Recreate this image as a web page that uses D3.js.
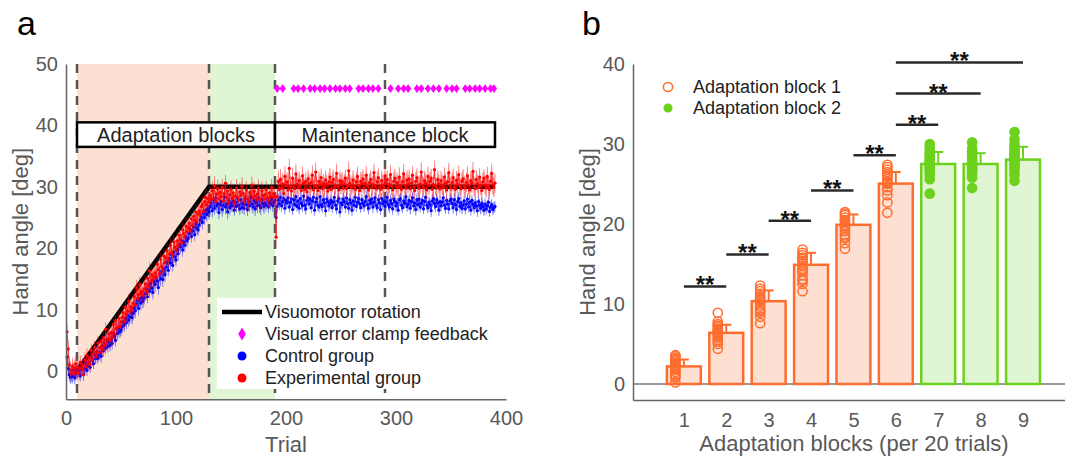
<!DOCTYPE html>
<html>
<head>
<meta charset="utf-8">
<script src="https://cdn.jsdelivr.net/npm/d3@7"></script>
<style>
    body { margin: 0; background: #fff; }
    svg { font-family: "Liberation Sans", Arial, sans-serif; }
</style>
</head>
<body>
<svg id="chart"></svg>
<script>
// ---------- panel a : trial-by-trial hand angle ----------
const controlGroup = [
    2.3, 0.4, -0.6, -1.0, -0.4, -0.9, 0.2, -1.1, -0.3, 0.1,
    -0.3, 0.5, -0.8, 0.2, 1.1, -0.5, 0.4, 1.3, 0.1, 0.9,
    1.4, 0.6, 2.3, 1.8, 1.2, 2.7, 2.0, 3.2, 2.1, 2.6,
    3.0, 2.4, 4.1, 3.3, 4.6, 3.7, 5.1, 4.0, 4.8, 4.2,
    5.1, 4.5, 6.2, 5.6, 5.0, 6.9, 6.1, 7.0, 6.4, 6.7,
    7.2, 8.0, 7.5, 8.6, 7.9, 9.1, 8.3, 8.8, 9.6, 8.7,
    9.4, 10.3, 9.8, 10.9, 11.5, 10.2, 11.8, 11.1, 12.0, 11.4,
    11.9, 12.6, 13.4, 12.1, 13.9, 13.0, 14.3, 13.5, 12.8, 14.6,
    14.1, 15.2, 14.7, 13.6, 15.8, 15.0, 16.3, 14.9, 16.6, 15.7,
    16.9, 17.8, 16.4, 18.3, 17.6, 18.9, 17.2, 19.4, 18.6, 18.1,
    19.8, 19.1, 20.6, 20.2, 21.3, 19.7, 21.0, 20.5, 21.9, 21.2,
    21.6, 22.4, 23.1, 21.9, 22.8, 23.5, 22.2, 24.0, 23.3, 23.0,
    23.8, 24.6, 25.1, 24.2, 25.7, 25.0, 26.2, 25.5, 26.4, 25.9,
    26.8, 27.4, 26.1, 27.9, 26.5, 28.2, 26.9, 27.3, 25.8, 27.1,
    27.6, 26.3, 27.0, 28.4, 26.7, 27.2, 25.9, 27.8, 26.6, 27.4,
    26.9, 27.7, 26.2, 27.5, 26.8, 28.1, 27.0, 26.4, 27.9, 26.6,
    27.3, 26.5, 28.0, 27.1, 26.3, 27.6, 26.9, 28.3, 27.2, 26.7,
    27.8, 26.4, 27.5, 26.9, 28.2, 27.0, 26.6, 27.9, 27.3, 26.8,
    27.4, 27.0, 28.1, 26.7, 27.6, 27.2, 28.0, 26.9, 27.5, 27.8,
    25.0, 26.8, 27.9, 27.2, 28.3, 26.9, 27.6, 28.1, 26.5, 27.8,
    27.4, 28.2, 26.7, 27.5, 28.0, 26.3, 27.9, 27.1, 28.4, 26.8,
    27.7, 26.5, 28.1, 27.3, 26.9, 28.5, 27.0, 26.4, 27.8, 28.2,
    27.2, 28.0, 26.6, 27.7, 28.3, 26.2, 27.5, 28.1, 27.0, 26.7,
    28.4, 27.1, 26.8, 27.9, 27.4, 26.1, 28.0, 27.6, 26.9, 27.3,
    27.8, 26.6, 27.5, 28.3, 27.0, 26.4, 27.7, 28.1, 25.9, 27.4,
    27.1, 28.0, 27.6, 26.7, 28.2, 27.3, 26.5, 27.9, 27.4, 26.2,
    27.7, 27.0, 28.3, 26.8, 27.5, 28.1, 27.2, 26.6, 27.9, 27.3,
    26.9, 27.6, 28.4, 27.1, 26.5, 27.8, 27.3, 28.0, 26.7, 27.5,
    28.2, 27.0, 26.6, 27.9, 27.4, 26.3, 28.1, 27.2, 27.7, 26.8,
    27.5, 28.3, 27.1, 26.7, 27.8, 27.3, 26.4, 28.0, 27.6, 26.9,
    27.4, 26.2, 27.9, 28.1, 27.0, 26.6, 27.7, 27.3, 28.4, 26.8,
    27.2, 27.8, 26.5, 27.6, 28.2, 26.9, 27.4, 26.3, 27.9, 27.1,
    28.0, 26.7, 27.3, 27.8, 26.4, 27.6, 28.3, 27.0, 26.6, 27.5,
    27.1, 26.1, 27.7, 28.1, 27.3, 26.8, 27.9, 27.4, 26.2, 27.6,
    26.9, 27.5, 28.2, 27.0, 26.5, 27.8, 27.2, 26.4, 27.7, 28.0,
    27.3, 26.6, 27.9, 27.1, 26.3, 27.6, 28.1, 26.8, 27.4, 26.5,
    27.0, 27.7, 26.4, 27.2, 28.0, 26.7, 27.5, 26.2, 27.8, 27.1,
    26.6, 27.4, 26.9, 26.1, 27.6, 27.0, 26.5, 27.3, 26.8, 26.2,
    27.2, 26.4, 26.9, 27.5, 26.0, 26.7, 27.1, 26.3, 26.6, 26.8
];

const experimentalGroup = [
    6.4, 3.6, 1.0, 0.2, -0.5, 0.8, -0.3, 0.5, 1.2, -0.2,
    0.6, -0.4, 1.4, 0.3, 0.9, -0.6, 1.8, 0.7, 2.6, 1.2,
    2.2, 1.1, 3.4, 1.9, 2.8, 3.9, 2.3, 3.1, 4.6, 3.0,
    3.8, 4.9, 3.5, 5.4, 4.2, 6.8, 4.6, 5.2, 6.1, 5.0,
    6.3, 5.5, 7.6, 6.1, 8.2, 6.9, 7.1, 8.6, 7.3, 8.0,
    8.7, 9.5, 8.1, 10.4, 9.2, 9.8, 11.3, 9.6, 10.5, 10.1,
    11.0, 12.2, 10.7, 13.6, 11.8, 12.4, 14.1, 12.6, 13.0, 12.3,
    13.4, 14.2, 12.9, 15.1, 13.8, 16.3, 14.6, 15.7, 14.9, 15.4,
    16.0, 15.3, 17.4, 16.5, 15.9, 18.2, 17.0, 16.4, 18.7, 17.6,
    18.4, 19.6, 18.0, 19.1, 20.5, 19.3, 18.8, 21.0, 20.2, 19.7,
    21.2, 20.4, 22.1, 21.5, 20.9, 23.0, 22.4, 21.8, 23.6, 22.7,
    23.4, 24.1, 22.9, 24.8, 23.7, 25.2, 24.5, 25.9, 24.3, 25.6,
    26.1, 25.4, 26.8, 27.2, 26.0, 27.6, 28.3, 27.0, 28.1, 27.5,
    28.6, 27.9, 29.4, 28.1, 30.2, 27.6, 28.8, 29.7, 28.0, 29.1,
    28.4, 29.9, 27.7, 28.9, 30.6, 28.2, 29.3, 27.5, 28.7, 29.6,
    28.1, 29.0, 27.3, 28.5, 29.8, 28.3, 27.8, 29.2, 28.6, 30.1,
    28.9, 27.6, 28.4, 29.5, 28.0, 27.4, 29.1, 28.7, 30.3, 28.2,
    29.3, 28.5, 27.9, 28.8, 29.7, 28.1, 27.7, 29.4, 28.6, 28.0,
    28.7, 29.6, 28.2, 27.8, 29.0, 28.4, 29.9, 28.3, 28.9, 28.5,
    21.8, 28.4, 30.9, 29.6, 31.2, 29.8, 30.5, 28.9, 31.7, 30.2,
    30.8, 29.5, 33.0, 30.1, 29.3, 31.4, 30.0, 29.7, 32.1, 30.4,
    29.9, 31.0, 30.3, 29.4, 31.8, 30.6, 29.6, 30.9, 29.2, 31.3,
    30.5, 29.8, 30.7, 31.9, 29.5, 30.2, 32.4, 30.0, 29.4, 30.9,
    30.3, 31.5, 29.7, 30.6, 29.9, 31.1, 30.4, 29.3, 30.8, 31.6,
    29.6, 30.7, 31.2, 29.9, 30.3, 32.2, 30.0, 29.5, 31.0, 30.4,
    30.9, 29.8, 30.5, 31.4, 29.7, 30.1, 32.6, 30.6, 29.9, 30.3,
    31.1, 30.0, 29.6, 30.8, 31.7, 30.2, 29.4, 30.9, 30.5, 31.3,
    29.8, 30.6, 31.9, 30.1, 29.5, 30.7, 31.2, 29.9, 30.4, 32.3,
    30.2, 29.7, 30.8, 31.5, 30.0, 29.6, 31.0, 30.3, 29.9, 31.8,
    30.5, 31.2, 29.8, 30.4, 32.0, 30.1, 29.5, 30.9, 31.4, 30.0,
    30.7, 29.9, 31.6, 30.2, 29.6, 30.8, 32.1, 30.3, 29.8, 31.1,
    30.4, 31.3, 29.7, 30.6, 31.9, 30.0, 29.4, 30.9, 31.5, 30.1,
    29.8, 30.5, 32.4, 30.3, 29.9, 31.0, 30.6, 29.5, 31.7, 30.2,
    30.9, 31.4, 29.6, 30.4, 32.8, 30.1, 29.8, 31.2, 30.5, 29.7,
    31.0, 30.3, 29.9, 31.6, 30.6, 29.5, 30.8, 32.3, 30.2, 29.8,
    30.7, 31.5, 30.0, 29.6, 31.1, 30.4, 32.0, 30.1, 29.7, 30.9,
    31.3, 30.2, 29.8, 30.7, 31.8, 30.3, 29.5, 31.0, 30.6, 32.5,
    30.0, 29.7, 31.2, 30.5, 29.9, 31.6, 30.2, 29.4, 30.8, 31.4,
    30.3, 29.8, 31.7, 30.1, 29.6, 30.9, 32.2, 30.4, 29.9, 30.6
];

// SEM, one value for each run of 10 trials
const controlSem = [1.1, 0.9, 0.9, 1.0, 1.0, 1.1, 1.2, 1.1, 1.2, 1.0, 1.1, 1.0, 1.2,
    1.1, 1.2, 1.0, 1.1, 1.2, 1.0, 1.0, 0.9, 1.0, 0.9, 1.0, 0.9, 1.0, 0.9, 1.0, 0.9,
    1.0, 0.9, 1.0, 0.9, 1.0, 0.9, 1.0, 0.9, 1.0, 0.9];
const experimentalSem = [1.4, 1.1, 1.1, 1.2, 1.2, 1.3, 1.3, 1.4, 1.3, 1.2, 1.3, 1.2, 1.3,
    1.5, 1.4, 1.5, 1.4, 1.5, 1.4, 1.7, 1.6, 1.5, 1.6, 1.5, 1.6, 1.5, 1.6, 1.5, 1.6,
    1.5, 1.6, 1.5, 1.6, 1.5, 1.6, 1.5, 1.6, 1.5, 1.6];

const rotationSchedule = [[10, 0], [130, 30], [390, 30]];
const clampTrials = [192, 197, 207, 211, 216, 222, 226, 231, 235, 240, 245, 249, 254, 258,
    266, 270, 275, 279, 284, 295, 302, 307, 311, 319, 323, 329, 334, 339, 346, 351, 355,
    363, 367, 372, 376, 381, 386, 389];
const clampAngle = 46;
const phaseBounds = [10, 130, 190, 290];
const phaseBoxes = [
    { label: 'Adaptation blocks', from: 10, to: 190 },
    { label: 'Maintenance block', from: 190, to: 390 }
];
const boxRange = [36.5, 40.5];
const trialTicks = [0, 100, 200, 300, 400];
const angleTicksA = [0, 10, 20, 30, 40, 50];
const legendLabelsA = ['Visuomotor rotation', 'Visual error clamp feedback', 'Control group', 'Experimental group'];

// ---------- panel b : block averages ----------
const blocks = [1, 2, 3, 4, 5, 6, 7, 8, 9];
const blockMeans = [2.2, 6.4, 10.35, 14.9, 19.9, 25.05, 27.5, 27.5, 28.05];
const blockSd = [0.86, 1.0, 1.35, 1.5, 1.3, 1.45, 1.5, 1.35, 1.6];
const blockPoints = [
    [0.2, 0.8, 1.2, 1.5, 1.8, 2.0, 2.2, 2.4, 2.6, 2.8, 3.0, 3.1, 3.3, 3.5, 3.6, 1.0],
    [4.4, 5.0, 5.5, 5.8, 6.0, 6.2, 6.4, 6.5, 6.7, 6.9, 7.1, 7.3, 7.5, 7.8, 8.9, 5.3],
    [7.6, 8.4, 8.9, 9.3, 9.7, 10.0, 10.3, 10.5, 10.8, 11.0, 11.3, 11.6, 11.9, 12.3, 9.1, 10.6],
    [11.6, 12.5, 13.1, 13.6, 14.0, 14.4, 14.8, 15.1, 15.4, 15.8, 16.1, 16.4, 16.8, 12.9, 15.6, 14.2],
    [16.9, 17.6, 18.2, 18.7, 19.1, 19.5, 19.9, 20.2, 20.5, 20.8, 21.1, 21.5, 19.7, 20.4, 18.4, 21.3],
    [21.4, 22.7, 23.6, 24.2, 24.6, 25.0, 25.3, 25.6, 25.9, 26.2, 26.5, 26.8, 27.1, 27.4, 25.1, 26.0],
    [23.8, 25.6, 26.2, 26.6, 27.0, 27.3, 27.6, 27.9, 28.2, 28.5, 28.8, 29.1, 29.5, 30.0, 27.8, 26.9],
    [24.5, 25.8, 26.3, 26.7, 27.0, 27.3, 27.6, 27.9, 28.2, 28.5, 28.8, 29.1, 29.4, 30.2, 27.5, 26.8],
    [25.4, 26.1, 26.7, 27.1, 27.5, 27.8, 28.1, 28.4, 28.7, 29.0, 29.3, 29.6, 30.0, 30.6, 31.5, 28.3]
];
// [from block, to block, height of bracket in deg]
const sigPairs = [[1, 2, 12.2], [2, 3, 16.2], [3, 4, 20.4], [4, 5, 24.2], [5, 6, 28.6],
    [6, 7, 32.4], [6, 8, 36.3], [6, 9, 40.2]];
const angleTicksB = [0, 10, 20, 30, 40];
const legendLabelsB = ['Adaptation block 1', 'Adaptation block 2'];

const svg = d3.select('#chart').attr('width', 1065).attr('height', 457);

const TICK_COLOR = '#595959';
const ORANGE = '#ff6d2e', ORANGE_FILL = '#fde0d2';
const GREEN = '#6cd21c', GREEN_FILL = '#e0f5d3';

class TrialPlot {
    constructor(_config) {
        this.config = {
            margin: { top: 64, left: 66 },
            width: 440,
            height: 335.3
        };
        this.initVis();
    }

    initVis() {
        let vis = this;
        const m = vis.config.margin;

        vis.x = d3.scaleLinear().domain([0, 400]).range([0, vis.config.width]);
        vis.y = d3.scaleLinear().domain([-4.6, 50]).range([vis.config.height, 0]);

        vis.chart = svg.append('g').attr('transform', `translate(${m.left},${m.top})`);

        svg.append('text').attr('x', 17).attr('y', 35)
            .attr('font-size', 34).attr('fill', '#000').text('a');

        vis.renderVis();
    }

    points(values, sem) {
        return values.map((v, i) => ({ t: i + 1, v: v, e: sem[Math.floor(i / 10)] }));
    }

    // light SEM band
    renderBand(pts, light) {
        let vis = this;
        vis.chart.append('path').datum(pts)
            .attr('fill', light).attr('opacity', 0.5)
            .attr('d', d3.area()
                .x(d => vis.x(d.t))
                .y0(d => vis.y(d.v - d.e))
                .y1(d => vis.y(d.v + d.e)));
    }

    // error bars, connecting line and markers
    renderMarks(pts, color) {
        let vis = this;
        const g = vis.chart.append('g');

        g.selectAll('.err').data(pts).join('line')
            .attr('x1', d => vis.x(d.t)).attr('x2', d => vis.x(d.t))
            .attr('y1', d => vis.y(d.v - d.e)).attr('y2', d => vis.y(d.v + d.e))
            .attr('stroke', color).attr('stroke-width', 0.8).attr('opacity', 0.5);

        g.append('path').datum(pts)
            .attr('fill', 'none').attr('stroke', color).attr('stroke-width', 0.9).attr('opacity', 0.7)
            .attr('d', d3.line().x(d => vis.x(d.t)).y(d => vis.y(d.v)));

        g.selectAll('circle').data(pts).join('circle')
            .attr('cx', d => vis.x(d.t)).attr('cy', d => vis.y(d.v))
            .attr('r', 1.6).attr('fill', color);
    }

    renderVis() {
        let vis = this;
        const y0 = vis.y.range()[0], y1 = vis.y.range()[1];

        // phase shading
        vis.chart.append('rect')
            .attr('x', vis.x(phaseBounds[0])).attr('y', y1)
            .attr('width', vis.x(phaseBounds[1]) - vis.x(phaseBounds[0])).attr('height', y0 - y1)
            .attr('fill', '#fce0d2');
        vis.chart.append('rect')
            .attr('x', vis.x(phaseBounds[1])).attr('y', y1)
            .attr('width', vis.x(phaseBounds[2]) - vis.x(phaseBounds[1])).attr('height', y0 - y1)
            .attr('fill', '#dff5d4');

        vis.chart.selectAll('.phase').data(phaseBounds).join('line')
            .attr('x1', d => vis.x(d)).attr('x2', d => vis.x(d))
            .attr('y1', y1).attr('y2', y0)
            .attr('stroke', '#555').attr('stroke-width', 2.5).attr('stroke-dasharray', '9,7');

        const ctrl = vis.points(controlGroup, controlSem);
        const expt = vis.points(experimentalGroup, experimentalSem);

        vis.renderBand(ctrl, '#9a9aff');
        vis.renderBand(expt, '#ff9a9a');

        vis.chart.append('path').datum(rotationSchedule)
            .attr('fill', 'none').attr('stroke', '#000').attr('stroke-width', 4.5)
            .attr('d', d3.line().x(d => vis.x(d[0])).y(d => vis.y(d[1])));

        vis.renderMarks(ctrl, '#0000ff');
        vis.renderMarks(expt, '#ff0000');

        vis.chart.selectAll('.clamp').data(clampTrials).join('path')
            .attr('transform', d => `translate(${vis.x(d)},${vis.y(clampAngle)}) scale(1.25,1)`)
            .attr('d', d3.symbol(d3.symbolDiamond, 22))
            .attr('fill', '#ff00ff');

        // phase boxes
        const boxes = vis.chart.selectAll('.box').data(phaseBoxes).join('g');
        boxes.append('rect')
            .attr('x', d => vis.x(d.from)).attr('y', vis.y(boxRange[1]))
            .attr('width', d => vis.x(d.to) - vis.x(d.from))
            .attr('height', vis.y(boxRange[0]) - vis.y(boxRange[1]))
            .attr('fill', '#fff').attr('stroke', '#000').attr('stroke-width', 2.5);
        boxes.append('text')
            .attr('x', d => vis.x((d.from + d.to) / 2))
            .attr('y', vis.y((boxRange[0] + boxRange[1]) / 2))
            .attr('dy', '0.36em').attr('text-anchor', 'middle')
            .attr('font-size', 20).attr('fill', '#222').text(d => d.label);

        // axes
        const xAxis = d3.axisBottom(vis.x).tickValues(trialTicks).tickSize(0).tickPadding(12);
        const yAxis = d3.axisLeft(vis.y).tickValues(angleTicksA).tickSize(0).tickPadding(8);
        const xg = vis.chart.append('g').attr('transform', `translate(0,${y0})`).call(xAxis);
        const yg = vis.chart.append('g').call(yAxis);
        [xg, yg].forEach(g => {
            g.select('.domain').attr('stroke', '#666').attr('stroke-width', 1.5);
            g.selectAll('text').attr('font-size', 20).attr('fill', TICK_COLOR)
                .attr('font-family', '"Liberation Sans", Arial, sans-serif');
        });

        vis.chart.append('text')
            .attr('x', vis.x(200)).attr('y', 452 - 64)
            .attr('text-anchor', 'middle').attr('font-size', 22).attr('fill', TICK_COLOR)
            .text('Trial');
        vis.chart.append('text')
            .attr('transform', `translate(${27.5 - 66},${(y0 + y1) / 2}) rotate(-90)`)
            .attr('text-anchor', 'middle').attr('font-size', 22).attr('fill', TICK_COLOR)
            .text('Hand angle [deg]');

        // legend
        const lg = svg.append('g').attr('transform', 'translate(217,298)');
        lg.append('rect').attr('width', 282).attr('height', 91).attr('fill', '#fff');
        const rows = lg.selectAll('.row').data(legendLabelsA).join('g')
            .attr('transform', (d, i) => `translate(0,${14 + i * 22})`);
        rows.append('text').attr('x', 48).attr('dy', '0.35em')
            .attr('font-size', 18).attr('fill', '#222').text(d => d);
        lg.append('line').attr('x1', 5).attr('x2', 45).attr('y1', 14).attr('y2', 14)
            .attr('stroke', '#000').attr('stroke-width', 4.5);
        lg.append('path').attr('transform', 'translate(25,36)')
            .attr('d', d3.symbol(d3.symbolDiamond, 50)).attr('fill', '#ff00ff');
        lg.append('circle').attr('cx', 25).attr('cy', 58).attr('r', 4.5).attr('fill', '#0000ff');
        lg.append('circle').attr('cx', 25).attr('cy', 80).attr('r', 4.5).attr('fill', '#ff0000');
    }
}

class BlockPlot {
    constructor(_config) {
        this.config = {
            margin: { top: 64, left: 633 },
            width: 432.4,
            height: 336
        };
        this.initVis();
    }

    initVis() {
        let vis = this;
        const m = vis.config.margin;

        vis.x = d3.scaleLinear().domain([-0.2, 10]).range([0, vis.config.width]);
        vis.y = d3.scaleLinear().domain([-2, 40]).range([vis.config.height, 0]);

        vis.chart = svg.append('g').attr('transform', `translate(${m.left},${m.top})`);

        svg.append('text').attr('x', 582).attr('y', 35)
            .attr('font-size', 34).attr('fill', '#000').text('b');

        vis.renderVis();
    }

    renderVis() {
        let vis = this;
        const y0 = vis.y.range()[0];
        const stroke = k => k <= 6 ? ORANGE : GREEN;
        const fill = k => k <= 6 ? ORANGE_FILL : GREEN_FILL;
        const bw = 0.8;

        // zero line
        vis.chart.append('line')
            .attr('x1', vis.x(-0.2)).attr('x2', vis.x(10))
            .attr('y1', vis.y(0)).attr('y2', vis.y(0))
            .attr('stroke', '#777').attr('stroke-width', 1.5);

        vis.chart.selectAll('.bar').data(blocks).join('rect')
            .attr('x', k => vis.x(k - bw / 2))
            .attr('width', vis.x(bw) - vis.x(0))
            .attr('y', (k, i) => vis.y(blockMeans[i]))
            .attr('height', (k, i) => vis.y(0) - vis.y(blockMeans[i]))
            .attr('fill', fill).attr('stroke', stroke).attr('stroke-width', 2.5);

        // error bars (upper half)
        const eb = vis.chart.selectAll('.eb').data(blocks).join('g');
        eb.append('line')
            .attr('x1', k => vis.x(k)).attr('x2', k => vis.x(k))
            .attr('y1', (k, i) => vis.y(blockMeans[i]))
            .attr('y2', (k, i) => vis.y(blockMeans[i] + blockSd[i]))
            .attr('stroke', stroke).attr('stroke-width', 2);
        eb.append('line')
            .attr('x1', k => vis.x(k) - 5).attr('x2', k => vis.x(k) + 5)
            .attr('y1', (k, i) => vis.y(blockMeans[i] + blockSd[i]))
            .attr('y2', (k, i) => vis.y(blockMeans[i] + blockSd[i]))
            .attr('stroke', stroke).attr('stroke-width', 2);

        // individual participants
        blocks.forEach((k, i) => {
            vis.chart.append('g').selectAll('circle').data(blockPoints[i]).join('circle')
                .attr('cx', vis.x(k - 0.2)).attr('cy', d => vis.y(d))
                .attr('r', 4.6)
                .attr('fill', k <= 6 ? 'none' : GREEN)
                .attr('stroke', stroke(k)).attr('stroke-width', 1.5);
        });

        // significance brackets
        const sg = vis.chart.selectAll('.sig').data(sigPairs).join('g');
        sg.append('line')
            .attr('x1', d => vis.x(d[0])).attr('x2', d => vis.x(d[1]))
            .attr('y1', d => vis.y(d[2])).attr('y2', d => vis.y(d[2]))
            .attr('stroke', '#2a2a2a').attr('stroke-width', 2.5);
        sg.append('text')
            .attr('x', d => vis.x((d[0] + d[1]) / 2)).attr('y', d => vis.y(d[2]) + 7)
            .attr('text-anchor', 'middle').attr('font-size', 24).attr('font-weight', 'bold')
            .attr('fill', '#111')
            .text('**');

        // axes
        const xAxis = d3.axisBottom(vis.x).tickValues(blocks).tickSize(0).tickPadding(13);
        const yAxis = d3.axisLeft(vis.y).tickValues(angleTicksB).tickSize(0).tickPadding(8);
        const xg = vis.chart.append('g').attr('transform', `translate(0,${y0})`).call(xAxis);
        const yg = vis.chart.append('g').call(yAxis);
        [xg, yg].forEach(g => {
            g.select('.domain').attr('stroke', '#666').attr('stroke-width', 1.5);
            g.selectAll('text').attr('font-size', 20).attr('fill', TICK_COLOR)
                .attr('font-family', '"Liberation Sans", Arial, sans-serif');
        });

        vis.chart.append('text')
            .attr('x', 854 - 633).attr('y', 451 - 64)
            .attr('text-anchor', 'middle').attr('font-size', 22).attr('fill', TICK_COLOR)
            .text('Adaptation blocks (per 20 trials)');
        vis.chart.append('text')
            .attr('transform', `translate(${595 - 633},${y0 / 2}) rotate(-90)`)
            .attr('text-anchor', 'middle').attr('font-size', 22).attr('fill', TICK_COLOR)
            .text('Hand angle [deg]');

        // legend
        const lg = svg.append('g').attr('transform', 'translate(668,87)');
        lg.append('circle').attr('r', 4.6).attr('fill', 'none')
            .attr('stroke', ORANGE).attr('stroke-width', 1.5);
        lg.append('circle').attr('cy', 21).attr('r', 4.6).attr('fill', GREEN);
        lg.selectAll('text').data(legendLabelsB).join('text')
            .attr('x', 25).attr('y', (d, i) => i * 21).attr('dy', '0.35em')
            .attr('font-size', 18).attr('fill', '#222').text(d => d);
    }
}

new TrialPlot();
new BlockPlot();
</script>
</body>
</html>
